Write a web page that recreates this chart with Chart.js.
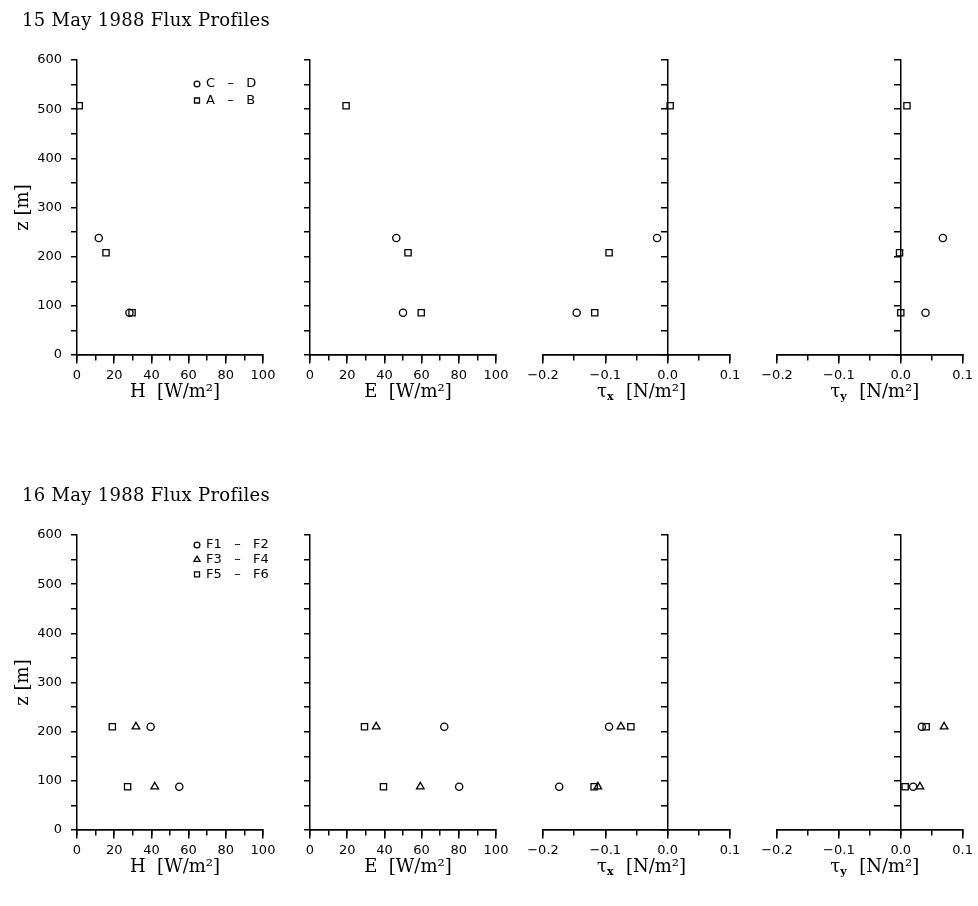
<!DOCTYPE html>
<html><head><meta charset="utf-8">
<script src="https://cdn.jsdelivr.net/npm/chart.js@4.4.0/dist/chart.umd.min.js"></script>
<style>
html,body{margin:0;padding:0;background:#fff;}
#wrap{position:relative;width:978px;height:906px;overflow:hidden;background:#fff;}
#wrap canvas{position:absolute;left:0;top:0;}
</style></head><body><div id="wrap"></div>
<script>
// ---------------- DATA ----------------
const dayTitles = ['15 May 1988 Flux Profiles', '16 May 1988 Flux Profiles'];
const panelVars = ['H', 'E', 'τ', 'τ'];
const panelSubs = ['', '', 'x', 'y'];
const panelUnits = ['[W/m²]', '[W/m²]', '[N/m²]', '[N/m²]'];
const xMins = [0, 0, -0.2, -0.2];
const xMaxs = [100, 100, 0.1, 0.1];
const xMinorSteps = [10, 10, 0.05, 0.05];
const xMajorSteps = [20, 20, 0.1, 0.1];
const zMin = 0, zMax = 600, zMinorStep = 50, zMajorStep = 100;
const zTitle = 'z [m]';

// 15 May 1988
const may15Labels = ['C – D', 'A – B'];
const may15Styles = ['circle', 'rect'];
const may15CD_z = [238, 86];
const may15CD_H = [11.7, 28.2];
const may15CD_E = [46.4, 50.0];
const may15CD_taux = [-0.017, -0.146];
const may15CD_tauy = [0.068, 0.040];
const may15AB_z = [507, 208, 86];
const may15AB_H = [1.2, 15.6, 29.6];
const may15AB_E = [19.4, 52.7, 59.8];
const may15AB_taux = [0.004, -0.094, -0.117];
const may15AB_tauy = [0.010, -0.002, 0.000];

// 16 May 1988
const may16Labels = ['F1 – F2', 'F3 – F4', 'F5 – F6'];
const may16Styles = ['circle', 'triangle', 'rect'];
const may16F12_z = [210, 88];
const may16F12_H = [39.6, 55.0];
const may16F12_E = [72.2, 80.2];
const may16F12_taux = [-0.094, -0.174];
const may16F12_tauy = [0.034, 0.020];
const may16F34_z = [210, 88];
const may16F34_H = [31.7, 41.8];
const may16F34_E = [35.6, 59.3];
const may16F34_taux = [-0.075, -0.112];
const may16F34_tauy = [0.070, 0.031];
const may16F56_z = [210, 88];
const may16F56_H = [19.0, 27.2];
const may16F56_E = [29.3, 39.5];
const may16F56_taux = [-0.059, -0.118];
const may16F56_tauy = [0.041, 0.007];

// ---------------- LAYOUT ----------------
const W = 978, Hh = 906;
const rowTops = [60, 535];
const plotH = 295;
const panelLefts = [77, 310, 543, 777];
const panelWidths = [186, 186, 187, 186];

const rows = [
  { title: dayTitles[0], labels: may15Labels, styles: may15Styles,
    series: [
      { z: may15CD_z, v: [may15CD_H, may15CD_E, may15CD_taux, may15CD_tauy] },
      { z: may15AB_z, v: [may15AB_H, may15AB_E, may15AB_taux, may15AB_tauy] }
    ], legendX: 197, legendY: 84, legendDy: 16.5 },
  { title: dayTitles[1], labels: may16Labels, styles: may16Styles,
    series: [
      { z: may16F12_z, v: [may16F12_H, may16F12_E, may16F12_taux, may16F12_tauy] },
      { z: may16F34_z, v: [may16F34_H, may16F34_E, may16F34_taux, may16F34_tauy] },
      { z: may16F56_z, v: [may16F56_H, may16F56_E, may16F56_taux, may16F56_tauy] }
    ], legendX: 197, legendY: 545, legendDy: 14.7 }
];

const radii = { circle: 3.6, rect: 4.4, triangle: 4.4 };
const SERIF = '"DejaVu Serif", "Liberation Serif", serif';
const SANS = '"DejaVu Sans", "Liberation Sans", sans-serif';

function drawMarker(ctx, style, x, y, r) {
  ctx.beginPath();
  if (style === 'circle') {
    ctx.arc(x, y, r, 0, Math.PI * 2);
  } else if (style === 'rect') {
    const s = r * Math.SQRT1_2;
    ctx.rect(x - s, y - s, 2 * s, 2 * s);
  } else {
    let a = 0;
    ctx.moveTo(x + Math.sin(a) * r, y - Math.cos(a) * r);
    a += 2 * Math.PI / 3; ctx.lineTo(x + Math.sin(a) * r, y - Math.cos(a) * r);
    a += 2 * Math.PI / 3; ctx.lineTo(x + Math.sin(a) * r, y - Math.cos(a) * r);
    ctx.closePath();
  }
  ctx.stroke();
}

const textPlugin = {
  id: 'panelText',
  afterDraw(chart, args, o) {
    const ctx = chart.ctx, a = chart.chartArea;
    ctx.save();
    ctx.fillStyle = '#000'; ctx.strokeStyle = '#000';
    // x-axis title with optional subscript
    const cx = (a.left + a.right) / 2 + 5;
    const by = a.bottom + 42;
    ctx.textBaseline = 'alphabetic';
    const fMain = '18px ' + SERIF, fSub = 'bold 11px ' + SERIF;
    ctx.font = fMain; const w1 = ctx.measureText(o.xVar).width;
    ctx.font = fSub; const w2 = o.xSub ? ctx.measureText(o.xSub).width + 1 : 0;
    ctx.font = fMain; const w3 = ctx.measureText('  ' + o.xUnit).width;
    let x0 = cx - (w1 + w2 + w3) / 2;
    ctx.textAlign = 'left';
    ctx.font = fMain; ctx.fillText(o.xVar, x0, by);
    if (o.xSub) { ctx.font = fSub; ctx.fillText(o.xSub, x0 + w1, by + 3); }
    ctx.font = fMain; ctx.fillText('  ' + o.xUnit, x0 + w1 + w2, by);
    if (o.first) {
      // row title
      ctx.font = '18px ' + SERIF;
      ctx.textAlign = 'left';
      try { ctx.letterSpacing = '0.3px'; } catch (e) {}
      ctx.fillText(o.title, 22, a.top - 34);
      try { ctx.letterSpacing = '0px'; } catch (e) {}
      // z title
      ctx.save();
      ctx.translate(23, (a.top + a.bottom) / 2);
      ctx.rotate(-Math.PI / 2);
      ctx.textAlign = 'center'; ctx.textBaseline = 'middle';
      ctx.font = '18px ' + SERIF;
      ctx.fillText(zTitle, 0, 0);
      ctx.restore();
      // legend
      ctx.font = '13px ' + SANS;
      ctx.textAlign = 'left'; ctx.textBaseline = 'middle';
      ctx.lineWidth = 1.3;
      chart.data.datasets.forEach((ds, i) => {
        const y = o.legendY + i * o.legendDy;
        drawMarker(ctx, ds.pointStyle, o.legendX, y, ds.pointRadius * 0.8);
        ctx.fillText(ds.label.replace(' – ', '   –   '), o.legendX + 9, y);
      });
    }
    ctx.restore();
  }
};

function fmtTick(v, p) {
  if (Math.abs(v) < 1e-9) v = 0;
  if (p >= 2) return (v < 0 ? '−' : '') + Math.abs(v).toFixed(1);
  return String(Math.round(v));
}

const wrap = document.getElementById('wrap');
rows.forEach((row, r) => {
  for (let p = 0; p < 4; p++) {
    const cv = document.createElement('canvas');
    cv.width = W; cv.height = Hh;
    cv.style.width = W + 'px'; cv.style.height = Hh + 'px';
    wrap.appendChild(cv);
    const left = panelLefts[p], right = left + panelWidths[p];
    const top = rowTops[r], bottom = top + plotH;
    const yLeft = p < 2; // y axis at left edge (x = 0 is the minimum)
    const datasets = row.series.map((s, i) => ({
      label: row.labels[i],
      data: s.z.map((z, k) => ({ x: s.v[p][k], y: z })),
      pointStyle: row.styles[i],
      pointRadius: radii[row.styles[i]],
      borderColor: '#000',
      backgroundColor: 'rgba(0,0,0,0)',
      pointBorderWidth: 1.3,
      showLine: false,
      xAxisID: 'x', yAxisID: 'y'
    }));
    const gridCommon = { drawOnChartArea: false, color: '#000', tickColor: '#000', lineWidth: 1.5, tickWidth: 1.5 };
    const borderCommon = { display: true, color: '#000', width: 1.5 };
    new Chart(cv, {
      type: 'scatter',
      data: { datasets },
      options: {
        responsive: false, animation: false, devicePixelRatio: 1,
        layout: { padding: { left: yLeft ? 0 : left, top: top, right: W - right, bottom: Hh - bottom } },
        plugins: {
          legend: { display: false }, tooltip: { enabled: false }, title: { display: false },
          panelText: { first: p === 0, title: row.title, xVar: panelVars[p], xSub: panelSubs[p], xUnit: panelUnits[p],
            legendX: row.legendX, legendY: row.legendY, legendDy: row.legendDy }
        },
        scales: {
          x: { type: 'linear', axis: 'x', min: xMins[p], max: xMaxs[p], position: { y: 0 },
            ticks: { stepSize: xMinorSteps[p], autoSkip: false, maxRotation: 0, callback: () => '', font: { size: 13, family: SANS } },
            grid: Object.assign({ tickLength: 5 }, gridCommon), border: borderCommon },
          xMaj: { type: 'linear', axis: 'x', min: xMins[p], max: xMaxs[p], position: { y: 0 },
            ticks: { stepSize: xMajorSteps[p], autoSkip: false, maxRotation: 0, color: '#000', padding: 5,
              callback: (v) => fmtTick(v, p), font: { size: 13, family: SANS } },
            grid: Object.assign({ tickLength: 8 }, gridCommon), border: borderCommon },
          y: { type: 'linear', axis: 'y', min: zMin, max: zMax, position: yLeft ? 'left' : { x: 0 },
            afterFit: yLeft ? ((s) => { s.width = left; }) : undefined,
            ticks: { stepSize: zMinorStep, autoSkip: false, color: '#000', padding: 9,
              callback: (v) => (p === 0 && v % zMajorStep === 0) ? String(v) : '', font: { size: 13, family: SANS } },
            grid: Object.assign({ tickLength: 6 }, gridCommon), border: borderCommon }
        }
      },
      plugins: [textPlugin]
    });
  }
});
</script>
</body></html>
